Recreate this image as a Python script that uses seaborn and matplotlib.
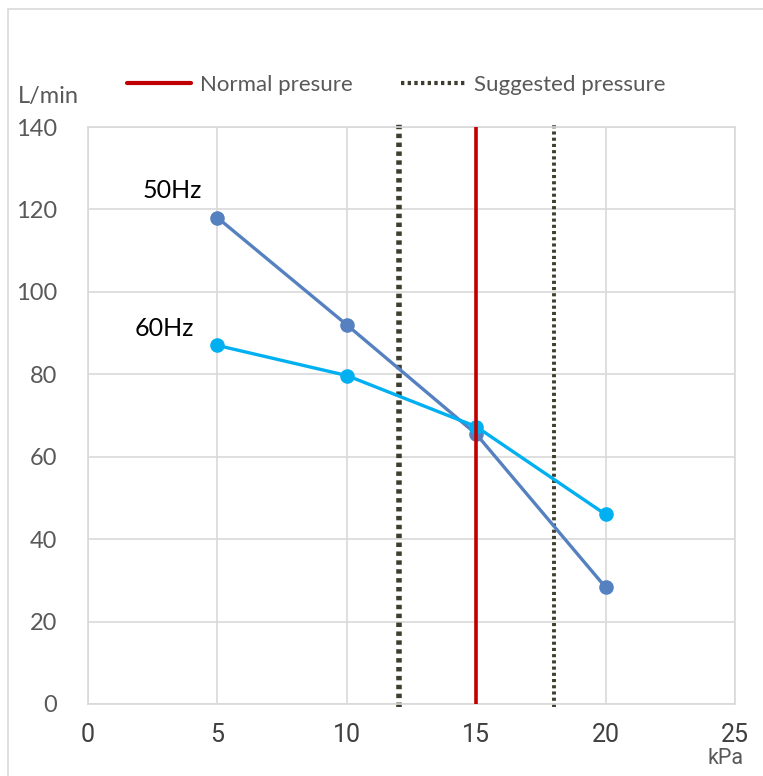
import matplotlib
matplotlib.use("Agg")
import matplotlib.pyplot as plt
import seaborn as sns
import pandas as pd
from matplotlib.lines import Line2D
from matplotlib.patches import Rectangle

# ---- data ----
pressure_kpa = [5, 10, 15, 20]
flow_50hz = [118, 92, 65.5, 28.3]
flow_60hz = [87, 79.7, 67.3, 46]
series_names = ["50Hz", "60Hz"]
normal_pressure = [15]
suggested_pressure = [12, 18]
x_ticks = [0, 5, 10, 15, 20, 25]
y_ticks = [0, 20, 40, 60, 80, 100, 120, 140]

df = pd.DataFrame({
    "kPa": pressure_kpa * 2,
    "flow": flow_50hz + flow_60hz,
    "series": [series_names[0]] * 4 + [series_names[1]] * 4,
})

sns.set_style("white")
plt.rcParams["font.family"] = ["Lato", "DejaVu Sans"]

NARROW = ["Roboto", "DejaVu Sans"]

W, H = 763, 776
fig = plt.figure(figsize=(W / 100, H / 100), dpi=100)
ax = fig.add_axes([88 / W, 1 - 704 / H, (735 - 88) / W, (704 - 127) / H])

palette = {"50Hz": "#5581C0", "60Hz": "#00B0F0"}
sns.lineplot(data=df, x="kPa", y="flow", hue="series", palette=palette,
             marker="o", markersize=10.5, markeredgewidth=0, linewidth=2.4,
             legend=False, ax=ax, zorder=3)

# reference lines
for p in normal_pressure:
    ax.axvline(p, color="#C00000", lw=2.6, zorder=4)
for i, p in enumerate(suggested_pressure):
    ax.axvline(p, color="#3F3E2E", lw=4.0 if i == 0 else 2.8,
               linestyle=(0, (0.8, 0.8)), zorder=2, clip_on=False,
               ymin=-0.005, ymax=1.005)

ax.set_xlim(0, 25)
ax.set_ylim(0, 140)
ax.set_xticks(x_ticks)
ax.set_yticks(y_ticks)
ax.set_yticklabels([str(v) for v in y_ticks])
ax.grid(True, color="#D9D9D9", lw=1.2, zorder=0)
ax.set_axisbelow(True)
for s in ax.spines.values():
    s.set_color("#D9D9D9")
    s.set_linewidth(1.2)
ax.tick_params(axis="both", length=0)
ax.tick_params(axis="y", labelsize=17, pad=22, colors="#595959")
ax.tick_params(axis="x", labelsize=18, pad=14, colors="#404040")
for lab in ax.get_xticklabels():
    lab.set_fontfamily(NARROW)
ax.set_xlabel("")
ax.set_ylabel("")

# series labels
ax.text(143 / W, 1 - 190 / H, series_names[0], transform=fig.transFigure,
        fontsize=18, color="black", va="center", ha="left",
        bbox=dict(facecolor="white", edgecolor="none", pad=3), zorder=5)
ax.text(135 / W, 1 - 328 / H, series_names[1], transform=fig.transFigure,
        fontsize=18, color="black", va="center", ha="left", zorder=5)

# axis unit labels
fig.text(18 / W, 1 - 96 / H, "L/min", fontsize=17, color="#595959",
         va="center", ha="left")
fig.text(744 / W, 1 - 759 / H, "kPa", fontsize=15.5, color="#595959",
         va="center", ha="right", family=NARROW)

# legend
handles = [
    Line2D([], [], color="#C00000", lw=3),
    Line2D([], [], color="#3F3E2E", lw=3, linestyle=(0, (0.8, 0.8))),
]
leg = fig.legend(handles, ["Normal presure", "Suggested pressure"],
                 loc="center left", bbox_to_anchor=(107 / W, 1 - 85 / H),
                 ncol=2, frameon=False, fontsize=16, handlelength=2.9,
                 handletextpad=0.4, columnspacing=2.15, labelcolor="#595959")

# figure border
fig.patches.append(Rectangle((8 / W, -0.01), 1.0, 1 - 9 / H + 0.01,
                             transform=fig.transFigure, fill=False,
                             edgecolor="#D9D9D9", lw=1.2))

fig.savefig("out.png", dpi=100)
